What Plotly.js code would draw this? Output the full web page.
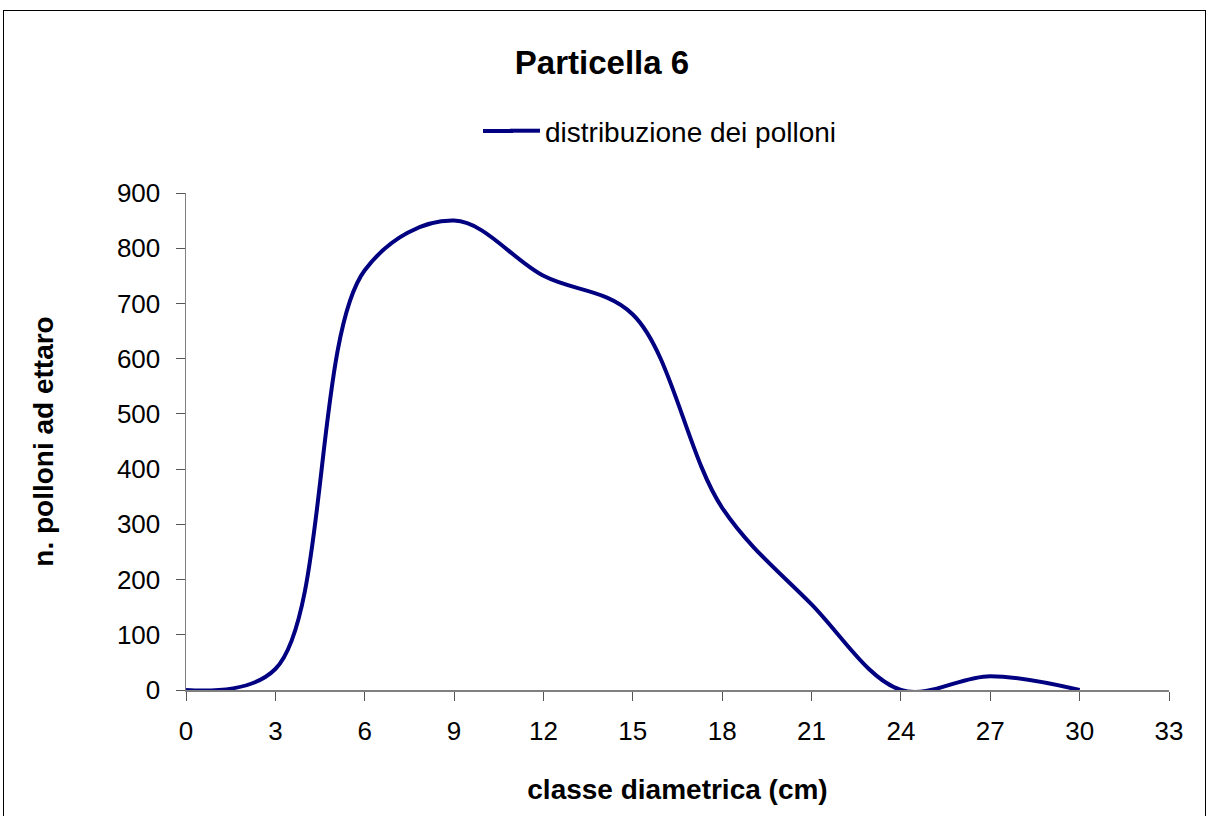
<!DOCTYPE html>
<html>
<head>
<meta charset="utf-8">
<script src="https://cdn.plot.ly/plotly-3.0.1.min.js"></script>
<style>
html,body{margin:0;padding:0;background:#fff;}
#wrap{position:relative;width:1210px;height:816px;}
#frame{position:absolute;left:3px;top:10px;width:1203px;height:820px;border:1px solid #000;box-sizing:border-box;pointer-events:none;}
#chart{position:absolute;left:0;top:0;width:1210px;height:816px;}
</style>
</head>
<body>
<div id="wrap"><div id="chart"></div><div id="frame"></div></div>
<script>
const classi = [0, 3, 6, 9, 12, 15, 18, 21, 24, 27, 30];
const polloni = [0, 38, 760, 850, 750, 680, 330, 155, 0, 25, 0];
const xTicks = [0, 3, 6, 9, 12, 15, 18, 21, 24, 27, 30, 33];
const yTicks = [0, 100, 200, 300, 400, 500, 600, 700, 800, 900];

const font = "Liberation Sans, Arial, sans-serif";
const navy = '#000080';
const trace = {
  x: classi, y: polloni, type: 'scatter', mode: 'lines',
  name: 'distribuzione dei polloni',
  line: {color: navy, width: 4, shape: 'spline', smoothing: 1}
};
// plot-area geometry (px) for legend-line extension
const L = 186, R = 41, T = 193, B = 126, W = 1210, H = 816;
const pw = W - L - R, ph = H - T - B;
const px2x = p => (p - L) / pw;
const py2y = p => (H - B - p) / ph;

const layout = {
  width: W, height: H,
  margin: {l: L, r: R, t: T, b: B},
  paper_bgcolor: '#fff', plot_bgcolor: '#fff',
  font: {family: font, size: 26, color: '#000'},
  title: {text: '<b>Particella 6</b>', font: {family: font, size: 33, color: '#000'},
          xref: 'container', yref: 'container', x: 602/W, xanchor: 'center', y: 1 - 62/H, yanchor: 'middle'},
  showlegend: true,
  legend: {orientation: 'h', xref: 'container', yref: 'container', x: 505/W, xanchor: 'left',
           y: 1 - 131/H, yanchor: 'middle', font: {family: font, size: 28, color: '#000'},
           bgcolor: 'rgba(0,0,0,0)', itemwidth: 30},
  shapes: [{type: 'line', xref: 'paper', yref: 'paper', x0: px2x(483), x1: px2x(513), y0: py2y(131), y1: py2y(131),
            line: {color: navy, width: 4}}],
  xaxis: {range: [0, 33], tickvals: xTicks, ticktext: xTicks.map(String), showgrid: false, zeroline: false,
          showline: true, linecolor: '#808080', linewidth: 1.5, ticks: 'outside', ticklen: 9, tickcolor: '#555',
          tickfont: {family: font, size: 26}, ticklabelstandoff: 8, fixedrange: true,
          title: {text: '<b>classe diametrica (cm)</b>', font: {family: font, size: 28}, standoff: 34}},
  yaxis: {range: [0, 900], tickvals: yTicks, ticktext: yTicks.map(String), showgrid: false, zeroline: false,
          showline: true, linecolor: '#808080', linewidth: 1.5, ticks: 'outside', ticklen: 9, tickcolor: '#555',
          tickfont: {family: font, size: 26}, ticklabelstandoff: 10, fixedrange: true,
          title: {text: '<b>n. polloni ad ettaro</b>', font: {family: font, size: 28}, standoff: 55}}
};
Plotly.newPlot('chart', [trace], layout, {displayModeBar: false, staticPlot: true});
</script>
</body>
</html>
